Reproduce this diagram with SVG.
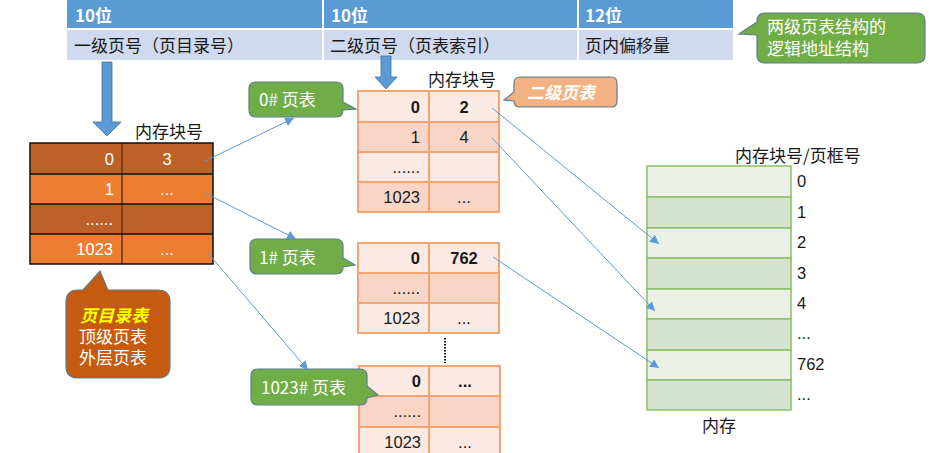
<svg xmlns="http://www.w3.org/2000/svg" width="943" height="453" viewBox="0 0 943 453">
<defs>
<style>
.cjk{font-family:"Noto Sans CJK SC","Liberation Sans",sans-serif;font-size:17px;}
.num{font-family:"Liberation Sans","Noto Sans CJK SC",sans-serif;font-size:16.5px;}
.w{fill:#fff;}
.k{fill:#1a1a1a;}
.b{font-weight:bold;}
.hd{fill:#5B9BD5;}
.hl{fill:#CFDAEE;}
.dk{fill:#BC6128;}
.or{fill:#ED7D31;}
.pl{fill:#FBEAE4;stroke:#F4A46F;stroke-width:2;}
.pd{fill:#F8D5C7;stroke:#F4A46F;stroke-width:2;}
.ml{fill:#EBF0E7;stroke:#8CC06A;stroke-width:1.5;}
.md{fill:#D6E3CE;stroke:#8CC06A;stroke-width:1.5;}
.gc{fill:#70AD47;stroke:#5E7D8C;stroke-width:1.2;}
.conn{stroke:#5B9BD5;stroke-width:1;fill:none;marker-end:url(#ah);}
.barrow{fill:#5B9BD5;stroke:#41719C;stroke-width:0.8;}
</style>
<marker id="ah" viewBox="0 0 10 10" refX="10" refY="5" markerUnits="userSpaceOnUse" markerWidth="9" markerHeight="9" orient="auto">
<path d="M0,0 L10,5 L0,10 z" fill="#5B9BD5"/>
</marker>
</defs>
<rect width="943" height="453" fill="#fff"/>

<g id="address-format">
<rect class="hd" x="67" y="0" width="255" height="28"/>
<rect class="hd" x="324" y="0" width="253" height="28"/>
<rect class="hd" x="579" y="0" width="154" height="28"/>
<rect class="hl" x="67" y="30" width="255" height="30"/>
<rect class="hl" x="324" y="30" width="253" height="30"/>
<rect class="hl" x="579" y="30" width="154" height="30"/>
<text class="cjk w b" x="75" y="22">10位</text>
<text class="cjk w b" x="331" y="22">10位</text>
<text class="cjk w b" x="585" y="22">12位</text>
<text class="cjk k" x="74" y="52">一级页号（页目录号）</text>
<text class="cjk k" x="330" y="52">二级页号（页表索引）</text>
<text class="cjk k" x="585" y="52">页内偏移量</text>
</g>

<g id="note-structure">
<path class="gc" d="M765,13 H917 Q925,13 925,21 V55 Q925,63 917,63 H765 Q757,63 757,55 V35 L739,34 L757,22 V21 Q757,13 765,13 Z"/>
<text class="cjk w" x="767" y="33">两级页表结构的</text>
<text class="cjk w" x="767" y="55">逻辑地址结构</text>
</g>

<g id="arrow-down-1">
<path class="barrow" d="M102,62 H112 V122 H121 L107,136 L93,122 H102 Z"/>
</g>
<g id="arrow-down-2">
<path class="barrow" d="M381,56 H391 V77 H397 L386,89 L375,77 H381 Z"/>
</g>

<g id="page-directory">
<text class="cjk k" x="135" y="138">内存块号</text>
<rect class="dk" x="30" y="143" width="183" height="31"/>
<rect class="or" x="30" y="174" width="183" height="30"/>
<rect class="dk" x="30" y="204" width="183" height="30"/>
<rect class="or" x="30" y="234" width="183" height="30"/>
<line x1="122" y1="143" x2="122" y2="264" stroke="#6B3210" stroke-width="1.5"/>
<g stroke="#111" stroke-width="1.5" fill="none">
<rect x="30" y="143" width="183" height="121"/>
<line x1="30" y1="174" x2="213" y2="174"/>
<line x1="30" y1="204" x2="213" y2="204"/>
<line x1="30" y1="234" x2="213" y2="234"/>
</g>
<g class="num w">
<text x="114" y="165" text-anchor="end">0</text>
<text x="167" y="165" text-anchor="middle">3</text>
<text x="114" y="195" text-anchor="end">1</text>
<text x="167" y="195" text-anchor="middle">...</text>
<text x="113" y="225" text-anchor="end">......</text>
<text x="113" y="255" text-anchor="end">1023</text>
<text x="167" y="255" text-anchor="middle">...</text>
</g>
</g>

<g id="note-directory">
<path fill="#C55A11" stroke="#5E7D8C" stroke-width="1.2" d="M78,290 H83 L100,271 L108,290 H158 Q170,290 170,302 V366 Q170,378 158,378 H78 Q66,378 66,366 V302 Q66,290 78,290 Z"/>
<text class="cjk b" x="80" y="322" fill="#FFFF00" font-style="italic">页目录表</text>
<text class="cjk w" x="79" y="343">顶级页表</text>
<text class="cjk w" x="79" y="364">外层页表</text>
</g>

<g id="page-table-0">
<text class="cjk k" x="428" y="86">内存块号</text>
<rect class="pl" x="358" y="91" width="71" height="31"/><rect class="pl" x="429" y="91" width="70" height="31"/>
<rect class="pd" x="358" y="122" width="71" height="30"/><rect class="pd" x="429" y="122" width="70" height="30"/>
<rect class="pl" x="358" y="152" width="71" height="30"/><rect class="pl" x="429" y="152" width="70" height="30"/>
<rect class="pd" x="358" y="182" width="71" height="30"/><rect class="pd" x="429" y="182" width="70" height="30"/>
<g class="num k">
<text class="b" x="420" y="113" text-anchor="end">0</text>
<text class="b" x="464" y="113" text-anchor="middle">2</text>
<text x="420" y="143" text-anchor="end">1</text>
<text x="464" y="143" text-anchor="middle">4</text>
<text x="420" y="173" text-anchor="end">......</text>
<text x="420" y="203" text-anchor="end">1023</text>
<text x="464" y="203" text-anchor="middle">...</text>
</g>
</g>

<g id="note-level2">
<path fill="#F4B183" stroke="#5E7D8C" stroke-width="1.2" d="M520,77 H611 Q617,77 617,83 V101 Q617,107 611,107 H520 Q514,107 514,101 L504,100 L514,92 V83 Q514,77 520,77 Z"/>
<text class="cjk w b" x="527" y="99" font-style="italic">二级页表</text>
</g>

<g id="label-0">
<path class="gc" d="M256,82 H336 Q343,82 343,89 V102 L356,109 L343,110 Q343,117 336,117 H256 Q249,117 249,110 V89 Q249,82 256,82 Z"/>
<text class="cjk w" x="259" y="106">0# 页表</text>
</g>

<g id="page-table-1">
<rect class="pl" x="358" y="243" width="71" height="30"/><rect class="pl" x="429" y="243" width="70" height="30"/>
<rect class="pd" x="358" y="273" width="71" height="30"/><rect class="pd" x="429" y="273" width="70" height="30"/>
<rect class="pl" x="358" y="303" width="71" height="30"/><rect class="pl" x="429" y="303" width="70" height="30"/>
<g class="num k">
<text class="b" x="420" y="264" text-anchor="end">0</text>
<text class="b" x="464" y="264" text-anchor="middle">762</text>
<text x="420" y="294" text-anchor="end">......</text>
<text x="420" y="324" text-anchor="end">1023</text>
<text x="464" y="324" text-anchor="middle">...</text>
</g>
</g>

<g id="label-1">
<path class="gc" d="M257,239 H336 Q343,239 343,246 V258 L355,265 L343,267 Q343,274 336,274 H257 Q250,274 250,267 V246 Q250,239 257,239 Z"/>
<text class="cjk w" x="259" y="264">1# 页表</text>
</g>

<line x1="445" y1="338" x2="445" y2="363" stroke="#111" stroke-width="2" stroke-dasharray="1.5,1.5"/>

<g id="page-table-1023">
<rect class="pl" x="359" y="366" width="70" height="30"/><rect class="pl" x="429" y="366" width="71" height="30"/>
<rect class="pd" x="359" y="396" width="70" height="31"/><rect class="pd" x="429" y="396" width="71" height="31"/>
<rect class="pl" x="359" y="427" width="70" height="31"/><rect class="pl" x="429" y="427" width="71" height="31"/>
<g class="num k">
<text class="b" x="421" y="387" text-anchor="end">0</text>
<text class="b" x="465" y="387" text-anchor="middle">...</text>
<text x="421" y="417" text-anchor="end">......</text>
<text x="421" y="448" text-anchor="end">1023</text>
<text x="465" y="448" text-anchor="middle">...</text>
</g>
</g>

<g id="label-1023">
<path class="gc" d="M258,369 H360 Q367,369 367,376 V386 L378,395 L367,398 Q367,405 360,405 H258 Q251,405 251,398 V376 Q251,369 258,369 Z"/>
<text class="cjk w" x="261" y="394">1023# 页表</text>
</g>

<g id="memory">
<text class="cjk k" x="735" y="162">内存块号/页框号</text>
<rect class="ml" x="647" y="166" width="144" height="31"/>
<rect class="md" x="647" y="197" width="144" height="31"/>
<rect class="ml" x="647" y="228" width="144" height="30"/>
<rect class="md" x="647" y="258" width="144" height="31"/>
<rect class="ml" x="647" y="289" width="144" height="30"/>
<rect class="md" x="647" y="319" width="144" height="31"/>
<rect class="ml" x="647" y="350" width="144" height="30"/>
<rect class="md" x="647" y="380" width="144" height="30"/>
<g class="num k">
<text x="797" y="187">0</text>
<text x="797" y="218">1</text>
<text x="797" y="248">2</text>
<text x="797" y="279">3</text>
<text x="797" y="309">4</text>
<text x="797" y="339">...</text>
<text x="797" y="370">762</text>
<text x="797" y="400">...</text>
</g>
<text class="cjk k" x="702" y="432">内存</text>
</g>

<g id="connectors">
<line class="conn" x1="205" y1="161" x2="294" y2="118"/>
<line class="conn" x1="205" y1="193" x2="296" y2="239"/>
<line class="conn" x1="207" y1="252" x2="308" y2="370"/>
<line class="conn" x1="492" y1="108" x2="659" y2="244"/>
<line class="conn" x1="492" y1="138" x2="655" y2="311"/>
<line class="conn" x1="493" y1="257" x2="659" y2="368"/>
</g>
</svg>
